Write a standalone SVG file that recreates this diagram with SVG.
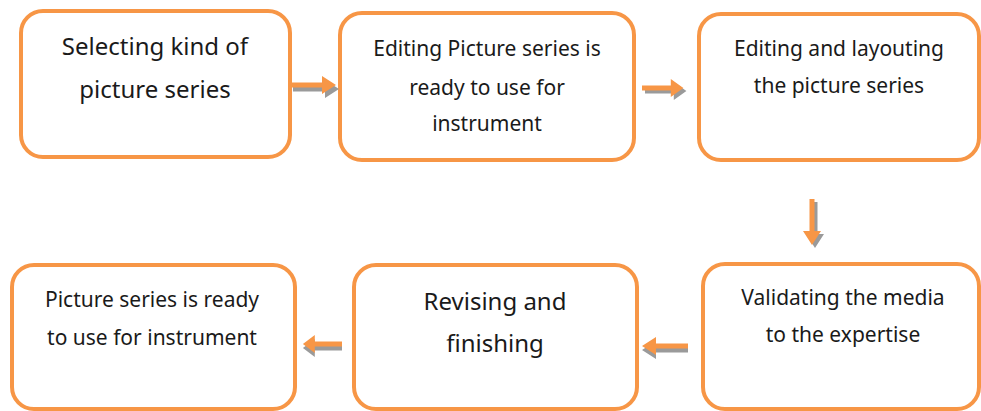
<svg xmlns="http://www.w3.org/2000/svg" width="981" height="411" viewBox="0 0 981 411">
<defs>
<style>
.box{fill:#fff;stroke:#F79646;stroke-width:4}
.t{font-family:"Noto Sans","Open Sans",sans-serif;fill:#1a1a1a;text-anchor:middle}
.l{font-size:24px}
.s{font-size:21px}
.ar{fill:#F79646}
.sh{fill:#9a9a9a}
</style>
<polygon id="arr" points="0,-2.5 32,-2.5 32,-9 46,0 32,9 32,2.5 0,2.5"/>
</defs>
<g id="n1"><rect class="box" x="21" y="11" width="269" height="146" rx="22"/>
<text class="t l" x="155" y="55">Selecting kind of</text><text class="t l" x="155" y="98">picture series</text></g>
<g id="n2"><rect class="box" x="340" y="13" width="294" height="147" rx="22"/>
<text class="t s" x="487" y="56">Editing Picture series is</text><text class="t s" x="487" y="95">ready to use for</text><text class="t s" x="487" y="131">instrument</text></g>
<g id="n3"><rect class="box" x="699" y="14" width="280" height="146" rx="22"/>
<text class="t s" x="839" y="56">Editing and layouting</text><text class="t s" x="839" y="93">the picture series</text></g>
<g id="n4"><rect class="box" x="703" y="264" width="276" height="145" rx="22"/>
<text class="t s" x="843" y="305">Validating the media</text><text class="t s" x="843" y="342">to the expertise</text></g>
<g id="n5"><rect class="box" x="354" y="265" width="283" height="144" rx="22"/>
<text class="t l" x="495" y="310">Revising and</text><text class="t l" x="495" y="352">finishing</text></g>
<g id="n6"><rect class="box" x="12" y="265" width="283" height="144" rx="22"/>
<text class="t s" x="152" y="307">Picture series is ready</text><text class="t s" x="152" y="345">to use for instrument</text></g>
<g id="connectors">
<use href="#arr" class="sh" transform="translate(293,89)"/>
<use href="#arr" class="ar" transform="translate(290,85)"/>
<use href="#arr" class="sh" transform="translate(645,91) scale(0.9,1)"/>
<use href="#arr" class="ar" transform="translate(642,88) scale(0.9,1)"/>
<use href="#arr" class="sh" transform="translate(815,202) rotate(90)"/>
<use href="#arr" class="ar" transform="translate(812,199) rotate(90)"/>
<use href="#arr" class="sh" transform="translate(688,350) rotate(180)"/>
<use href="#arr" class="ar" transform="translate(688,346) rotate(180)"/>
<use href="#arr" class="sh" transform="translate(342,348) rotate(180) scale(0.85,1)"/>
<use href="#arr" class="ar" transform="translate(342,344) rotate(180) scale(0.85,1)"/>
</g>
</svg>
